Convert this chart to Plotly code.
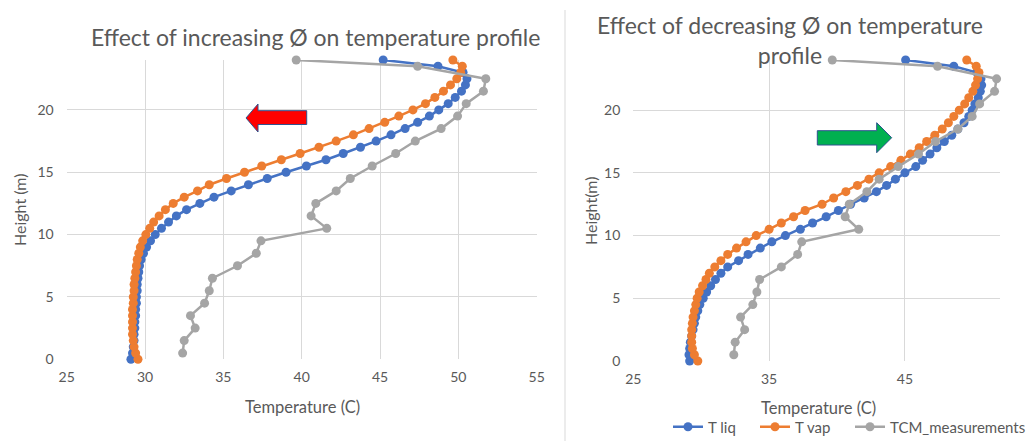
import plotly.graph_objects as go

W, H = 1029, 441

# ---- data -------------------------------------------------------------
heights = [0.0, 0.5, 1.0, 1.5, 2.0, 2.5, 3.0, 3.5, 4.0, 4.5, 5.0, 5.5, 6.0, 6.5,
           7.0, 7.5, 8.0, 8.5, 9.0, 9.5, 10.0, 10.5, 11.0, 11.5, 12.0, 12.5,
           13.0, 13.5, 14.0, 14.5, 15.0, 15.5, 16.0, 16.5, 17.0, 17.5, 18.0,
           18.5, 19.0, 19.5, 20.0, 20.5, 21.0, 21.5, 22.0, 22.5, 23.0, 23.5, 24.0]

# increasing phi
inc_t_liq = [29.1, 29.2, 29.25, 29.3, 29.3, 29.35, 29.35, 29.4, 29.4, 29.45, 29.45,
             29.5, 29.5, 29.55, 29.6, 29.65, 29.75, 29.9, 30.1, 30.35, 30.65, 31.05,
             31.5, 32.0, 32.65, 33.5, 34.4, 35.5, 36.6, 37.8, 39.0, 40.3, 41.55,
             42.65, 43.75, 44.75, 45.7, 46.6, 47.4, 48.15, 48.75, 49.35, 49.8,
             50.2, 50.45, 50.55, 50.3, 48.7, 45.2]
inc_t_vap = [29.55, 29.4, 29.3, 29.25, 29.2, 29.2, 29.2, 29.2, 29.2, 29.25, 29.25,
             29.3, 29.3, 29.35, 29.4, 29.45, 29.5, 29.6, 29.7, 29.85, 30.05, 30.3,
             30.55, 30.9, 31.3, 31.8, 32.5, 33.35, 34.1, 35.2, 36.35, 37.45, 38.7,
             39.9, 41.1, 42.2, 43.3, 44.3, 45.3, 46.2, 47.1, 47.9, 48.5, 49.05,
             49.5, 49.9, 50.15, 50.25, 49.65]

# decreasing phi
dec_t_liq = [29.15, 29.1, 29.15, 29.2, 29.3, 29.4, 29.5, 29.6, 29.75, 29.9, 30.15,
             30.4, 30.7, 31.05, 31.45, 31.95, 32.75, 33.45, 34.35, 35.2, 36.2, 37.3,
             38.2, 39.2, 40.1, 41.0, 42.0, 42.9, 43.65, 44.3, 45.0, 45.8, 46.3,
             46.85, 47.35, 47.9, 48.45, 48.9, 49.35, 49.7, 49.95, 50.15, 50.4,
             50.55, 50.65, 50.6, 50.3, 48.6, 45.05]
dec_t_vap = [29.75, 29.5, 29.35, 29.3, 29.3, 29.3, 29.35, 29.4, 29.5, 29.6, 29.7,
             29.85, 30.1, 30.35, 30.6, 31.0, 31.45, 31.95, 32.6, 33.3, 34.05, 35.0,
             35.9, 36.8, 37.65, 38.9, 39.75, 40.65, 41.5, 42.35, 43.1, 43.95, 44.7,
             45.4, 46.05, 46.6, 47.2, 47.75, 48.2, 48.6, 49.0, 49.4, 49.7, 50.0,
             50.2, 50.35, 50.45, 50.25, 49.55]

# thermocouple measurements (same on both panels)
tcm_heights = [0.5, 1.5, 2.5, 3.5, 4.5, 5.5, 6.5, 7.5, 8.5, 9.5, 10.5, 11.5, 12.5,
               13.5, 14.5, 15.5, 16.5, 17.5, 18.5, 19.5, 20.5, 21.5, 22.5, 23.5, 24.0]
tcm_temps = [32.4, 32.5, 33.2, 32.9, 33.8, 34.1, 34.3, 35.9, 37.1, 37.4, 41.6, 40.6,
             40.9, 42.2, 43.1, 44.5, 46.0, 47.25, 48.9, 49.95, 50.5, 51.6, 51.75,
             47.4, 39.65]

series_names = ["T liq", "T vap", "TCM_measurements"]
series_colors = ["#4472C4", "#ED7D31", "#A5A5A5"]

TEXT = "#595959"
GRID = "#D9D9D9"
FONT = "Lato"


def fx(px):
    return px / W


def fy(py):
    return 1 - py / H


fig = go.Figure()

legend_ids = ["legend", "legend2", "legend3"]
panels = [
    ("x", "y", [inc_t_liq, inc_t_vap], False),
    ("x2", "y2", [dec_t_liq, dec_t_vap], True),
]
for xa, ya, (liq, vap), show in panels:
    for i, (xs, ys) in enumerate([(liq, heights), (vap, heights),
                                  (tcm_temps, tcm_heights)]):
        fig.add_trace(go.Scatter(
            x=xs, y=ys, name=series_names[i], mode="lines+markers",
            xaxis=xa, yaxis=ya, showlegend=show, legend=legend_ids[i],
            cliponaxis=False,
            line=dict(color=series_colors[i], width=2.5),
            marker=dict(color=series_colors[i], size=9, symbol="circle"),
        ))

axis_common = dict(
    showgrid=True, gridcolor=GRID, gridwidth=1, zeroline=False,
    showline=False, ticks="", fixedrange=True, automargin=False,
    tickfont=dict(family=FONT, size=14, color=TEXT),
)

legend_common = dict(orientation="h", xanchor="left", yanchor="middle",
                     itemwidth=30, bgcolor="rgba(0,0,0,0)",
                     font=dict(family=FONT, size=15, color=TEXT))

fig.update_layout(
    template="none",
    width=W, height=H,
    margin=dict(l=0, r=0, t=0, b=0, autoexpand=False),
    paper_bgcolor="white", plot_bgcolor="white",
    font=dict(family=FONT, color=TEXT),
    xaxis=dict(domain=[fx(66.7), fx(536.7)], range=[25, 55], tick0=25, dtick=5,
               anchor="y", ticklabelstandoff=8, **axis_common),
    yaxis=dict(domain=[fy(359.3), fy(60)], range=[0, 24], tick0=0, dtick=5,
               anchor="x", ticklabelstandoff=12, **axis_common),
    xaxis2=dict(domain=[fx(633.3), fx(1000)], range=[25, 52], tick0=25, dtick=10,
                anchor="y2", ticklabelstandoff=8, **axis_common),
    yaxis2=dict(domain=[fy(361), fy(60)], range=[0, 24], tick0=0, dtick=5,
                anchor="x2", ticklabelstandoff=12, **axis_common),
    legend=dict(x=fx(668), y=fy(427), **legend_common),
    legend2=dict(x=fx(755), y=fy(427), **legend_common),
    legend3=dict(x=fx(850), y=fy(427), **legend_common),
)

# titles and axis captions
texts = [
    ("Effect of increasing Ø on temperature profile", 315, 37, 23),
    ("Effect of decreasing Ø on temperature<br>profile", 790, 40, 23),
    ("Temperature (C)", 302, 407, 16.5),
    ("Temperature (C)", 818, 408, 16.5),
]
for txt, x, y, size in texts:
    fig.add_annotation(text=txt, x=fx(x), y=fy(y), xref="paper", yref="paper",
                       showarrow=False, xanchor="center", yanchor="middle",
                       font=dict(family=FONT, size=size, color=TEXT))
for txt, x, y in [("Height (m)", 19, 210), ("Height(m)", 590, 211)]:
    fig.add_annotation(text=txt, x=fx(x), y=fy(y), xref="paper", yref="paper",
                       showarrow=False, textangle=-90, xanchor="center",
                       yanchor="middle", font=dict(family=FONT, size=16, color=TEXT))


def poly(points):
    return "M " + " L ".join(f"{fx(a):.5f},{fy(b):.5f}" for a, b in points) + " Z"


# direction arrows
left_arrow = [(246, 118), (258, 104), (258, 110.7), (306.7, 110.7),
              (306.7, 124.5), (258, 124.5), (258, 132)]
right_arrow = [(891.7, 137.7), (876.7, 122.7), (876.7, 130.7), (817.3, 130.7),
               (817.3, 145), (876.7, 145), (876.7, 152.7)]
fig.add_shape(type="path", path=poly(left_arrow), xref="paper", yref="paper",
              fillcolor="#FF0000", line=dict(color="#2F528F", width=1))
fig.add_shape(type="path", path=poly(right_arrow), xref="paper", yref="paper",
              fillcolor="#00B050", line=dict(color="#2F528F", width=1))

# divider between the two charts
fig.add_shape(type="line", x0=fx(565), x1=fx(565), y0=fy(10), y1=fy(441),
              xref="paper", yref="paper", line=dict(color=GRID, width=1))

fig.write_html("out.html")
